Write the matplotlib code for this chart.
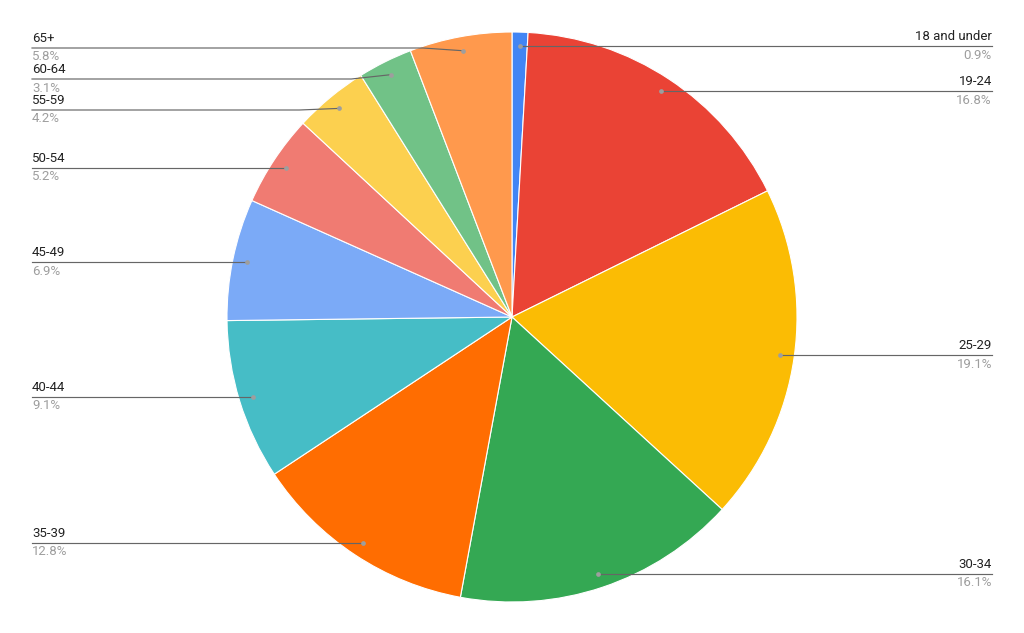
import matplotlib.pyplot as plt
import numpy as np

# Data
age_groups = ["18 and under", "19-24", "25-29", "30-34", "35-39", "40-44",
              "45-49", "50-54", "55-59", "60-64", "65+"]
shares = [0.9, 16.8, 19.1, 16.1, 12.8, 9.1, 6.9, 5.2, 4.2, 3.1, 5.8]

colors = ["#4285F4", "#EA4335", "#FBBC04", "#34A853", "#FF6D01", "#46BDC6",
          "#7BAAF7", "#F07B72", "#FCD04F", "#71C287", "#FF994D"]

# Layout (pixel space, y measured from top)
W, H = 1024, 633
CX, CY, R = 512, 317, 285
# label line heights where labels were nudged apart (others sit at dot height)
label_y_override = {"65+": 48, "60-64": 79, "55-59": 110}

fig = plt.figure(figsize=(W / 100, H / 100), dpi=100)
ax = fig.add_axes([0, 0, 1, 1])

wedges, _ = ax.pie(
    shares,
    colors=colors,
    startangle=90,
    counterclock=False,
    center=(CX, H - CY),
    radius=R,
    wedgeprops=dict(edgecolor="white", linewidth=0.8),
)
# pie() resets the view, so set the pixel frame afterwards
ax.set_xlim(0, W)
ax.set_ylim(0, H)
ax.set_aspect("equal")
ax.axis("off")

font = ["Roboto", "DejaVu Sans"]
total = sum(shares)
for w, name, val in zip(wedges, age_groups, shares):
    mid = np.deg2rad((w.theta1 + w.theta2) / 2)
    dx = CX + 0.95 * R * np.cos(mid)
    dy = (H - CY) + 0.95 * R * np.sin(mid)
    ly = H - label_y_override[name] if name in label_y_override else dy
    if np.cos(mid) > 0:
        lx, ha = 992, "right"
        bend = dx + 40
    else:
        lx, ha = 32, "left"
        bend = dx - 40
    ax.plot([lx, bend, dx], [ly, ly, dy], color="#666666", lw=0.85, zorder=3)
    ax.plot(dx, dy, "o", ms=3.4, color="#9e9e9e", mec="none", zorder=4)
    ax.text(lx, ly + 3, name, ha=ha, va="bottom", fontsize=9.5,
            color="#222222", family=font)
    ax.text(lx, ly - 2.5, f"{val / total * 100:.1f}%", ha=ha, va="top",
            fontsize=9.5, color="#9e9e9e", family=font)

fig.savefig("out.png", dpi=100, facecolor="white")
